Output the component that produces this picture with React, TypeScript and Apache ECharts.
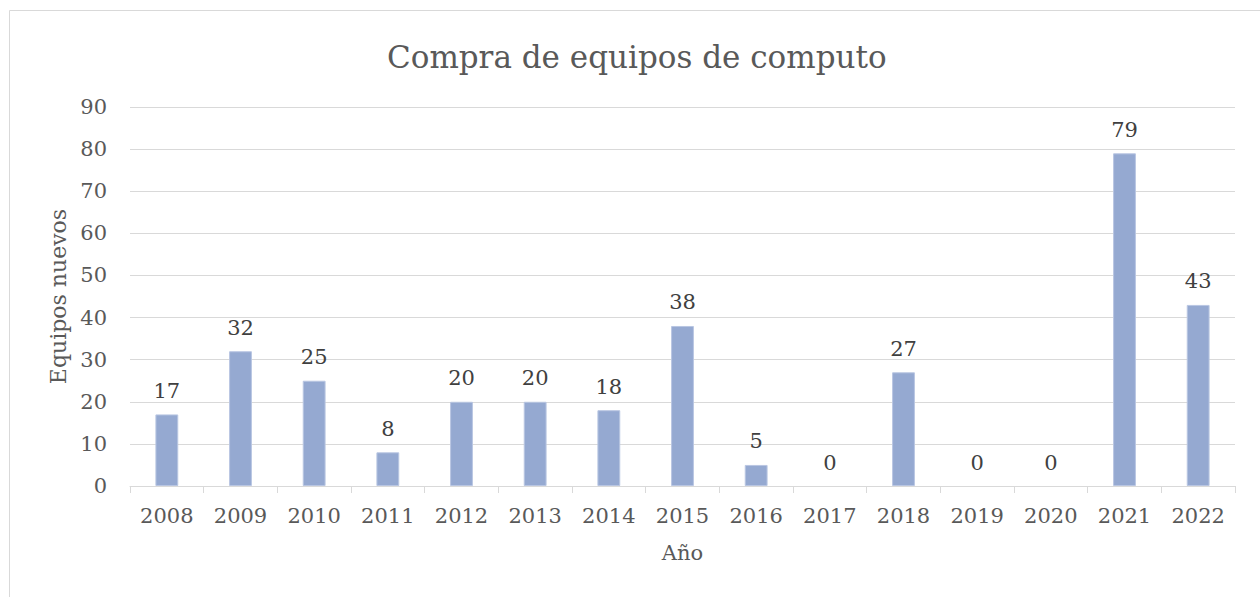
import React, { useEffect, useRef } from "react";
import * as echarts from "echarts";

const years = ["2008","2009","2010","2011","2012","2013","2014","2015","2016","2017","2018","2019","2020","2021","2022"];
const equipos = [17, 32, 25, 8, 20, 20, 18, 38, 5, 0, 27, 0, 0, 79, 43];
const titleText = "Compra de equipos de computo";
const xName = "Año";
const yName = "Equipos nuevos";

const FONT = "'DejaVu Serif', serif";
const FS = 21;

export default function App() {
  const ref = useRef<HTMLDivElement>(null);
  useEffect(() => {
    document.body.style.margin = "0";
    const chart = echarts.init(ref.current!, null, { renderer: "svg" });
    chart.setOption({
      animation: false,
      backgroundColor: "#ffffff",
      textStyle: { fontFamily: FONT },
      title: {
        text: titleText,
        left: 382,
        top: 36,
        textStyle: { fontFamily: FONT, fontSize: 31, fontWeight: "normal", color: "#595959" },
      },
      graphic: [
        {
          type: "rect",
          shape: { x: 9.5, y: 10.5, width: 1400, height: 800 },
          style: { fill: "none", stroke: "#d9d9d9", lineWidth: 1 },
          silent: true,
        },
      ],
      grid: { left: 130, right: 25, top: 107, bottom: 111, containLabel: false },
      xAxis: {
        type: "category",
        data: years,
        name: xName,
        nameLocation: "middle",
        nameGap: 56,
        nameTextStyle: { fontFamily: FONT, fontSize: FS, color: "#595959" },
        axisLine: { lineStyle: { color: "#d9d9d9", width: 1 } },
        axisTick: { show: true, length: 7, lineStyle: { color: "#d9d9d9" } },
        axisLabel: { fontFamily: FONT, fontSize: FS, color: "#595959", margin: 19 },
      },
      yAxis: {
        type: "value",
        min: 0,
        max: 90,
        interval: 10,
        name: yName,
        nameLocation: "middle",
        nameGap: 58,
        nameTextStyle: { fontFamily: FONT, fontSize: 22, color: "#595959" },
        axisLine: { show: false },
        axisTick: { show: false },
        axisLabel: { fontFamily: FONT, fontSize: FS, color: "#595959", margin: 23 },
        splitLine: { lineStyle: { color: "#d9d9d9", width: 1 } },
      },
      series: [
        {
          type: "bar",
          data: equipos.map((v) => ({
            value: v,
            itemStyle: { borderWidth: v === 0 ? 0 : 1 },
          })),
          barWidth: "31%",
          itemStyle: { color: "#95A9D1", borderColor: "#B9C6E2", borderWidth: 1 },
          label: {
            show: true,
            position: "top",
            distance: 13,
            fontFamily: FONT,
            fontSize: FS,
            color: "#404040",
          },
        },
      ],
    });
    return () => chart.dispose();
  }, []);
  return <div ref={ref} style={{ width: 1260, height: 597 }} />;
}
